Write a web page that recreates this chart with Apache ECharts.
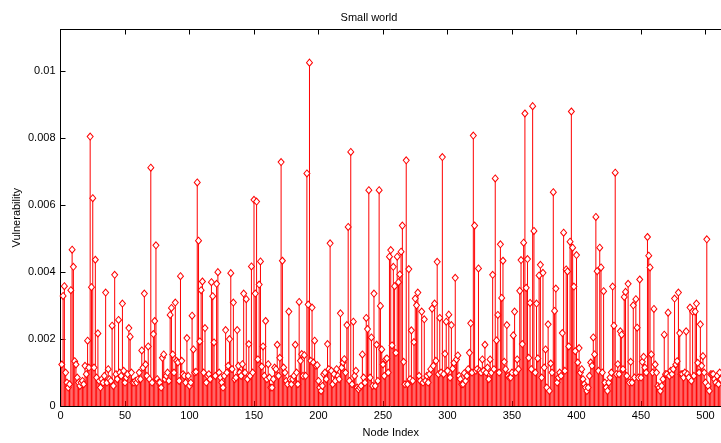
<!DOCTYPE html>
<html>
<head>
<meta charset="utf-8">
<script src="https://cdn.jsdelivr.net/npm/echarts@6/dist/echarts.min.js"></script>
<style>html,body{margin:0;padding:0;background:#fff;}#c{width:721px;height:443px;}</style>
</head>
<body>
<div id="c"></div>
<script>
const titleText = 'Small world';
const xName = 'Node Index';
const yName = 'Vulnerability';
const xTicks = [0, 50, 100, 150, 200, 250, 300, 350, 400, 450, 500];
const yTicks = [0, 0.002, 0.004, 0.006, 0.008, 0.01];
// vulnerability of nodes 1..512
const vulnerability = [
0.00124,0.00329,0.00358,0.00100,0.00070,0.00055,0.00065,0.00346,0.00467,0.00416,
0.00134,0.00124,0.00085,0.00070,0.00060,0.00070,0.00075,0.00065,0.00120,0.00095,
0.00195,0.00115,0.00805,0.00355,0.00621,0.00115,0.00437,0.00085,0.00217,0.00075,
0.00055,0.00080,0.00070,0.00090,0.00339,0.00070,0.00110,0.00080,0.00075,0.00240,
0.00060,0.00392,0.00095,0.00080,0.00257,0.00100,0.00090,0.00306,0.00105,0.00070,
0.00085,0.00095,0.00233,0.00207,0.00100,0.00070,0.00070,0.00075,0.00070,0.00080,
0.00100,0.00080,0.00166,0.00115,0.00336,0.00124,0.00090,0.00178,0.00080,0.00712,
0.00070,0.00215,0.00254,0.00480,0.00080,0.00070,0.00070,0.00055,0.00144,0.00154,
0.00080,0.00090,0.00100,0.00075,0.00272,0.00293,0.00154,0.00100,0.00309,0.00135,
0.00130,0.00075,0.00388,0.00135,0.00095,0.00090,0.00070,0.00203,0.00090,0.00060,
0.00070,0.00270,0.00169,0.00100,0.00102,0.00668,0.00494,0.00193,0.00346,0.00372,
0.00100,0.00233,0.00070,0.00090,0.00095,0.00080,0.00370,0.00328,0.00190,0.00090,
0.00365,0.00400,0.00100,0.00085,0.00070,0.00055,0.00090,0.00227,0.00100,0.00120,
0.00200,0.00397,0.00110,0.00309,0.00080,0.00085,0.00227,0.00120,0.00100,0.00090,
0.00125,0.00336,0.00100,0.00319,0.00080,0.00185,0.00090,0.00417,0.00100,0.00616,
0.00336,0.00611,0.00139,0.00363,0.00432,0.00118,0.00178,0.00090,0.00254,0.00080,
0.00125,0.00085,0.00055,0.00055,0.00080,0.00115,0.00110,0.00183,0.00090,0.00144,
0.00729,0.00434,0.00115,0.00100,0.00075,0.00065,0.00282,0.00080,0.00065,0.00080,
0.00090,0.00183,0.00100,0.00065,0.00311,0.00135,0.00155,0.00090,0.00152,0.00090,
0.00695,0.00303,0.01026,0.00135,0.00294,0.00130,0.00195,0.00120,0.00122,0.00075,
0.00055,0.00045,0.00060,0.00095,0.00100,0.00080,0.00185,0.00110,0.00486,0.00105,
0.00065,0.00095,0.00075,0.00110,0.00090,0.00080,0.00277,0.00115,0.00130,0.00140,
0.00100,0.00242,0.00535,0.00075,0.00759,0.00065,0.00252,0.00090,0.00105,0.00055,
0.00050,0.00055,0.00060,0.00154,0.00085,0.00070,0.00263,0.00230,0.00645,0.00085,
0.00205,0.00060,0.00336,0.00060,0.00183,0.00075,0.00645,0.00299,0.00169,0.00124,
0.00090,0.00139,0.00142,0.00100,0.00446,0.00466,0.00181,0.00416,0.00358,0.00159,
0.00446,0.00370,0.00393,0.00461,0.00539,0.00132,0.00065,0.00734,0.00065,0.00409,
0.00080,0.00226,0.00075,0.00191,0.00321,0.00301,0.00339,0.00090,0.00075,0.00282,
0.00070,0.00259,0.00075,0.00090,0.00070,0.00095,0.00110,0.00291,0.00120,0.00306,
0.00135,0.00431,0.00095,0.00263,0.00100,0.00744,0.00095,0.00156,0.00252,0.00105,
0.00273,0.00085,0.00242,0.00112,0.00129,0.00383,0.00139,0.00151,0.00090,0.00080,
0.00065,0.00065,0.00098,0.00075,0.00090,0.00110,0.00159,0.00247,0.00100,0.00808,
0.00539,0.00105,0.00110,0.00411,0.00105,0.00100,0.00139,0.00105,0.00183,0.00100,
0.00115,0.00080,0.00139,0.00100,0.00392,0.00110,0.00680,0.00196,0.00272,0.00100,
0.00483,0.00323,0.00434,0.00132,0.00110,0.00242,0.00090,0.00085,0.00085,0.00100,
0.00211,0.00282,0.00100,0.00139,0.00110,0.00344,0.00436,0.00185,0.00488,0.00874,
0.00353,0.00439,0.00144,0.00308,0.00110,0.00896,0.00523,0.00100,0.00306,0.00142,
0.00390,0.00422,0.00085,0.00398,0.00115,0.00169,0.00055,0.00244,0.00045,0.00127,
0.00100,0.00639,0.00284,0.00351,0.00070,0.00085,0.00100,0.00090,0.00218,0.00518,
0.00105,0.00408,0.00402,0.00178,0.00491,0.00880,0.00473,0.00357,0.00164,0.00451,
0.00130,0.00173,0.00100,0.00110,0.00080,0.00065,0.00055,0.00045,0.00055,0.00090,
0.00130,0.00120,0.00205,0.00154,0.00565,0.00403,0.00105,0.00473,0.00414,0.00100,
0.00343,0.00070,0.00055,0.00045,0.00070,0.00085,0.00100,0.00357,0.00240,0.00697,
0.00095,0.00125,0.00095,0.00223,0.00213,0.00110,0.00326,0.00341,0.00090,0.00365,
0.00070,0.00132,0.00070,0.00301,0.00085,0.00319,0.00234,0.00085,0.00378,0.00085,
0.00132,0.00147,0.00115,0.00100,0.00505,0.00449,0.00414,0.00154,0.00100,0.00290,
0.00124,0.00100,0.00060,0.00055,0.00045,0.00060,0.00080,0.00213,0.00095,0.00095,
0.00279,0.00090,0.00105,0.00095,0.00110,0.00321,0.00124,0.00134,0.00339,0.00218,
0.00095,0.00095,0.00085,0.00100,0.00223,0.00095,0.00085,0.00294,0.00075,0.00282,
0.00090,0.00282,0.00306,0.00129,0.00100,0.00244,0.00120,0.00149,0.00100,0.00070,
0.00498,0.00060,0.00045,0.00095,0.00095,0.00095,0.00080,0.00070,0.00090,0.00065,
0.00100,0.00080
];
const points = vulnerability.map((v, i) => [i + 1, v]);

const chart = echarts.init(document.getElementById('c'), null, {renderer: 'canvas'});
const font = 'Liberation Sans, Arial, Helvetica, sans-serif';
const fmtY = v => yTicks.some(t => Math.abs(t - v) < 1e-9) ? String(parseFloat(v.toFixed(4))) : '';
const fmtX = v => xTicks.indexOf(v) >= 0 ? String(v) : '';
chart.setOption({
  animation: false,
  backgroundColor: '#ffffff',
  title: {
    text: titleText, left: 364, top: 7, textAlign: 'center',
    textStyle: {fontFamily: font, fontSize: 11, fontWeight: 'normal', color: '#000'}
  },
  grid: {left: 60.5, top: 29.5, width: 668, bottom: 32.5, containLabel: false},
  xAxis: [{
    type: 'value', min: 0, max: 512, interval: 50, position: 'bottom',
    name: xName, nameLocation: 'middle', nameGap: 21,
    nameTextStyle: {fontFamily: font, fontSize: 11, color: '#000'},
    axisLine: {show: true, onZero: false, lineStyle: {color: '#000', width: 1}},
    axisTick: {show: true, inside: true, length: 5, lineStyle: {color: '#000'}},
    axisLabel: {show: true, formatter: fmtX, showMaxLabel: false, margin: 4, fontFamily: font, fontSize: 11, color: '#000'},
    splitLine: {show: false}
  }, {
    type: 'value', min: 0, max: 512, interval: 50, position: 'top',
    axisLine: {show: true, onZero: false, lineStyle: {color: '#000', width: 1}},
    axisTick: {show: true, inside: true, length: 5, lineStyle: {color: '#000'}},
    axisLabel: {show: false}, splitLine: {show: false}
  }],
  yAxis: [{
    type: 'value', min: 0, max: 0.01125, interval: 0.002,
    name: yName, nameLocation: 'middle', nameGap: 38, nameRotate: 90, nameMoveOverlap: false,
    nameTextStyle: {fontFamily: font, fontSize: 11, color: '#000'},
    axisLine: {show: true, onZero: false, lineStyle: {color: '#000', width: 1}},
    axisTick: {show: true, inside: true, length: 5, lineStyle: {color: '#000'}},
    axisLabel: {show: true, formatter: fmtY, showMaxLabel: false, margin: 5, fontFamily: font, fontSize: 11, color: '#000'},
    splitLine: {show: false}
  }],
  series: [{
    type: 'custom',
    clip: true,
    data: points,
    encode: {x: 0, y: 1},
    renderItem: function (params, api) {
      const x = api.value(0), v = api.value(1);
      const p0 = api.coord([x, 0]);
      const p1 = api.coord([x, v]);
      return {
        type: 'line',
        shape: {x1: p0[0], y1: p0[1], x2: p1[0], y2: p1[1]},
        style: {stroke: '#ff0000', lineWidth: 1}
      };
    },
    z: 2
  }, {
    type: 'scatter',
    data: points,
    symbol: 'diamond',
    symbolSize: [6, 7],
    itemStyle: {color: '#ffffff', borderColor: '#ff0000', borderWidth: 1, opacity: 1},
    emphasis: {disabled: true},
    z: 3
  }]
});
</script>
</body>
</html>
